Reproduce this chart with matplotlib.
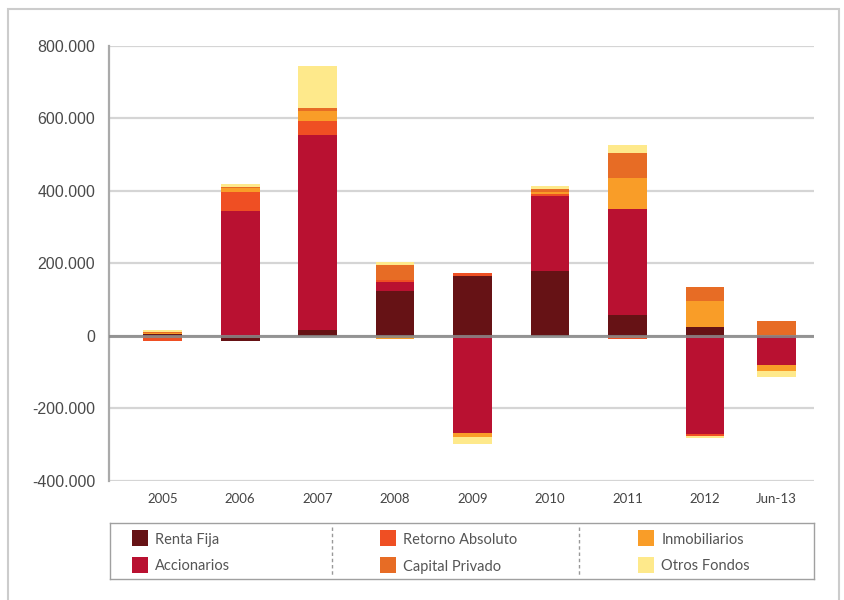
import numpy as np
import matplotlib
matplotlib.use("Agg")
import matplotlib.pyplot as plt
from matplotlib.patches import Rectangle

# values in thousands
categories = ["2005", "2006", "2007", "2008", "2009", "2010", "2011", "2012", "Jun-13"]
renta_fija = [5, -14, 15, 122, 164, 178, 56, 23, 0]
accionarios = [-2, 345, 539, 25, -268, 208, 293, -271, -80]
retorno_absoluto = [-12, 52, 39, 8, 8, 5, -10, -5, 0]
inmobiliarios = [3, 11, 28, -10, -11, 5, 86, 72, -17]
capital_privado = [1, 2, 8, 41, 0, 9, 69, 39, 40]
otros_fondos = [6, 8, 116, 8, -19, 8, 22, -7, -17]

yticks = [-400, -200, 0, 200, 400, 600, 800]
ytick_labels = ["-400.000", "-200.000", "0", "200.000", "400.000", "600.000", "800.000"]

series = [
    ("Renta Fija", renta_fija, "#661215"),
    ("Accionarios", accionarios, "#B91131"),
    ("Retorno Absoluto", retorno_absoluto, "#EF4F23"),
    ("Inmobiliarios", inmobiliarios, "#F99D28"),
    ("Capital Privado", capital_privado, "#E76C25"),
    ("Otros Fondos", otros_fondos, "#FEE98B"),
]
colors = dict((name, c) for name, _, c in series)

W, H = 844, 600
fig = plt.figure(figsize=(W / 100, H / 100), dpi=100)

# outer frame
fig.patches.append(Rectangle((8 / W, -0.05), (839 - 8) / W, 1.05 - 9 / H,
                             transform=fig.transFigure, fill=False,
                             edgecolor="#cccccc", linewidth=1.5))

ax = fig.add_axes([109 / W, 1 - 480.7 / H, (814 - 109) / W, (480.7 - 45.7) / H])

x = np.arange(len(categories), dtype=float)
x[-1] -= 0.08
pos_base = np.zeros(len(categories))
neg_base = np.zeros(len(categories))
for name, vals, col in series:
    v = np.array(vals, dtype=float)
    base = np.where(v >= 0, pos_base, neg_base)
    ax.bar(x, v, 0.5, bottom=base, color=col, linewidth=0, zorder=2)
    pos_base += np.where(v >= 0, v, 0)
    neg_base += np.where(v < 0, v, 0)

ax.axhline(0, color="#888888", lw=2.2, alpha=0.85, zorder=3)

ax.set_ylim(-400, 800)
ax.set_xlim(-0.693, 8.407)
ax.set_yticks(yticks)
ax.set_yticklabels(ytick_labels, fontsize=11.5, color="#4a4a4a", family="Liberation Sans")
ax.set_xticks(x)
ax.set_xticklabels(categories, fontsize=9.5, color="#444444", family="Lato")
ax.tick_params(axis="y", length=0, pad=10)
ax.tick_params(axis="x", length=0, pad=9)
ax.yaxis.grid(True, color="#d5d5d5", lw=1.6)
ax.set_axisbelow(True)
for s in ["top", "right", "bottom"]:
    ax.spines[s].set_visible(False)
ax.spines["left"].set_color("#aaaaaa")
ax.spines["left"].set_linewidth(1.6)

# legend box, drawn in pixel coordinates
lg = fig.add_axes([110 / W, 1 - 579.3 / H, (814 - 110) / W, (579.3 - 522.7) / H])
lg.set_xlim(110, 814)
lg.set_ylim(579.3, 522.7)
lg.set_xticks([])
lg.set_yticks([])
for s in lg.spines.values():
    s.set_color("#a0a0a0")
    s.set_linewidth(1.0)

legend_rows = [
    ["Renta Fija", "Retorno Absoluto", "Inmobiliarios"],
    ["Accionarios", "Capital Privado", "Otros Fondos"],
]
square_x = [132, 380, 638.5]
text_x = [155, 403, 661.5]
row_y = [538, 564.5]
for r, names in enumerate(legend_rows):
    for c, name in enumerate(names):
        lg.add_patch(Rectangle((square_x[c], row_y[r] - 8), 16, 16,
                               color=colors[name], linewidth=0))
        lg.text(text_x[c], row_y[r] + 2, name, fontsize=10.5, color="#555555",
                family="Lato", va="center", ha="left")
for xs in [332, 579]:
    lg.plot([xs, xs], [527, 576], color="#999999", lw=1, ls=(0, (2.5, 2)))

fig.savefig("out.png", dpi=100)
